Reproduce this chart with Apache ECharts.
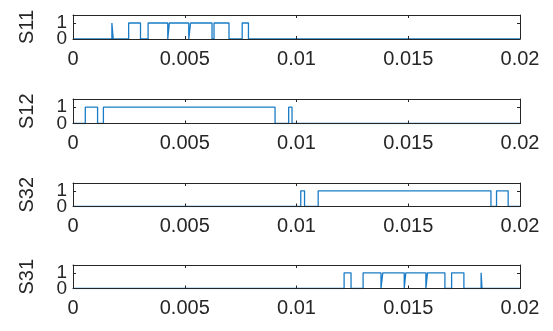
<!DOCTYPE html>
<html>
<head>
<meta charset="utf-8">
<script src="https://cdn.jsdelivr.net/npm/echarts@6/dist/echarts.min.js"></script>
<style>
html,body{margin:0;padding:0;background:#fff;}
#c{width:553px;height:331px;}
</style>
</head>
<body>
<div id="c"></div>
<script>
// Signal names (y-axis labels), top to bottom
const names = ['S11', 'S12', 'S32', 'S31'];
// Toggle times (s): signal starts at 0, each listed time flips the level
const edgesS11 = [0.00174, 0.00180, 0.00249, 0.00302, 0.00336, 0.00424, 0.00431, 0.00518, 0.00526, 0.00622, 0.00631, 0.00698, 0.00757, 0.00785];
const edgesS12 = [0.00055, 0.00110, 0.00136, 0.00904, 0.00965, 0.00980];
const edgesS32 = [0.01019, 0.01036, 0.01097, 0.01870, 0.01895, 0.01947];
const edgesS31 = [0.01213, 0.01244, 0.01298, 0.01378, 0.01386, 0.01482, 0.01489, 0.01579, 0.01586, 0.01664, 0.01694, 0.01749, 0.01826, 0.01830];
const xTicks = [0, 0.005, 0.01, 0.015, 0.02];
const yTicks = [0, 1];
const tStart = 0, tEnd = 0.02;

const allEdges = [edgesS11, edgesS12, edgesS32, edgesS31];

function buildSteps(edges) {
  const d = [[tStart, 0]];
  let v = 0;
  edges.forEach(t => { v = 1 - v; d.push([t, v]); });
  d.push([tEnd, v]);
  return d;
}

const axisColor = '#262626';
const font = 'Liberation Sans, Arial, sans-serif';
const tops = [15, 99, 183, 265];
const heights = [24, 24.5, 23.5, 23.5];

const grid = [], xAxis = [], yAxis = [], series = [];
names.forEach((nm, i) => {
  grid.push({left: 73, right: 33, top: tops[i], height: heights[i], containLabel: false});
  const common = {
    type: 'value', gridIndex: i, min: tStart, max: tEnd, interval: 0.005, z: 5,
    axisLine: {show: true, onZero: false, lineStyle: {color: axisColor, width: 1}},
    axisTick: {show: true, inside: true, length: 3, lineStyle: {color: axisColor}},
    splitLine: {show: false}
  };
  xAxis.push(Object.assign({}, common, {
    position: 'bottom',
    axisLabel: {show: true, color: axisColor, fontFamily: font, fontSize: 20, margin: 10,
      showMinLabel: true, showMaxLabel: true,
      formatter: v => { const m = xTicks.find(t => Math.abs(t - v) < 1e-9); return m === undefined ? '' : String(m); }}
  }));
  xAxis.push(Object.assign({}, common, {position: 'top', axisLabel: {show: false}}));
  const ycommon = {
    type: 'value', gridIndex: i, min: 0, max: 1.5, interval: 1, z: 5,
    axisLine: {show: true, onZero: false, lineStyle: {color: axisColor, width: 1}},
    axisTick: {show: true, inside: true, length: 3, lineStyle: {color: axisColor}},
    splitLine: {show: false}
  };
  const labelBase = {show: true, color: axisColor, fontFamily: font, fontSize: 19, margin: 6,
    padding: [0, 0, 5, 0], showMinLabel: true, showMaxLabel: true, hideOverlap: false};
  // left axis A: shows tick label "1" and the axis name
  yAxis.push(Object.assign({}, ycommon, {
    position: 'left',
    name: nm, nameLocation: 'middle', nameRotate: 90, nameGap: 36,
    nameTextStyle: {color: axisColor, fontFamily: font, fontSize: 20},
    axisLabel: Object.assign({}, labelBase, {
      formatter: v => (Math.abs(v - yTicks[1]) < 1e-9 ? String(yTicks[1]) : '')})
  }));
  // right axis (box edge)
  yAxis.push(Object.assign({}, ycommon, {position: 'right', axisLabel: {show: false}}));
  // left axis B: shows tick label "0"
  yAxis.push(Object.assign({}, ycommon, {
    position: 'left', axisLine: {show: false}, axisTick: {show: false},
    axisLabel: Object.assign({}, labelBase, {
      formatter: v => (Math.abs(v - yTicks[0]) < 1e-9 ? String(yTicks[0]) : '')})
  }));
  series.push({
    type: 'line', xAxisIndex: 2 * i, yAxisIndex: 3 * i, step: 'end',
    data: buildSteps(allEdges[i]), showSymbol: false, symbol: 'none',
    lineStyle: {color: '#1a7cc6', width: 1.3}, animation: false, z: 1
  });
});

const chart = echarts.init(document.getElementById('c'), null, {renderer: 'canvas'});
chart.setOption({animation: false, backgroundColor: '#fff', grid, xAxis, yAxis, series});
</script>
</body>
</html>
